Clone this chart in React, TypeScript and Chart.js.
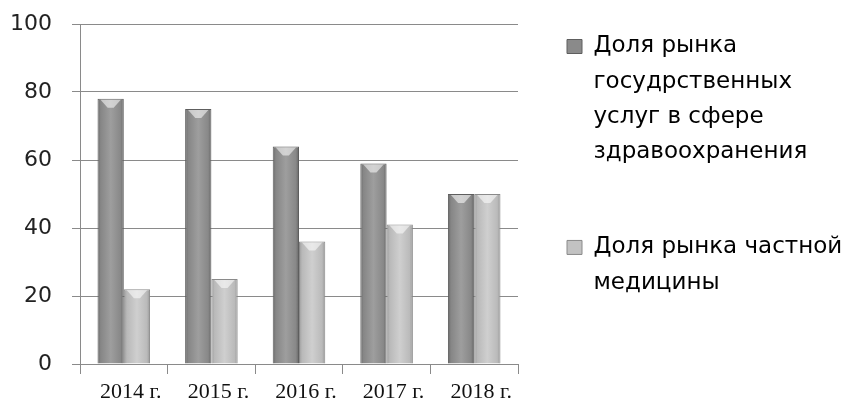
import React, { useEffect, useRef } from "react";
import { Chart, registerables } from "chart.js";

Chart.register(...registerables);

const categories = ["2014 г.", "2015 г.", "2016 г.", "2017 г.", "2018 г."];
const publicShare = [78, 75, 64, 59, 50];
const privateShare = [22, 25, 36, 41, 50];
const legendPublic = ["Доля рынка", "госудрственных", "услуг в сфере", "здравоохранения", ""];
const legendPrivate = ["Доля рынка частной", "медицины"];
const yTicks = [0, 20, 40, 60, 80, 100];

const CAT_PCT = 0.6;
const LEGEND_WIDTH = 327;
const LEGEND_SHIFT = 24;

function barFill(ctx: any, dark: boolean) {
  const chart = ctx.chart;
  const xs = chart.scales && chart.scales.x;
  if (!xs || ctx.type !== "data" || !chart.chartArea) return dark ? "#8c8c8c" : "#c4c4c4";
  const center = xs.getPixelForValue(ctx.dataIndex);
  const catW = xs.width / categories.length;
  const bw = (catW * CAT_PCT) / 2;
  const left = center - (catW * CAT_PCT) / 2 + ctx.datasetIndex * bw;
  const g = chart.ctx.createLinearGradient(left, 0, left + bw, 0);
  if (dark) {
    g.addColorStop(0, "#6a6a6a");
    g.addColorStop(0.12, "#868686");
    g.addColorStop(0.5, "#9e9e9e");
    g.addColorStop(0.88, "#888888");
    g.addColorStop(1, "#666666");
  } else {
    g.addColorStop(0, "#9c9c9c");
    g.addColorStop(0.12, "#b9b9b9");
    g.addColorStop(0.5, "#cfcfcf");
    g.addColorStop(0.88, "#bababa");
    g.addColorStop(1, "#979797");
  }
  return g;
}

const bevelPlugin = {
  id: "bevel",
  afterDatasetsDraw(chart: any) {
    const c = chart.ctx;
    chart.data.datasets.forEach((_: any, di: number) => {
      const meta = chart.getDatasetMeta(di);
      meta.data.forEach((el: any) => {
        const p = el.getProps(["x", "y", "width"], true);
        const l = p.x - p.width / 2 + 1;
        const r = p.x + p.width / 2 - 1;
        const t = p.y + 1;
        c.save();
        c.fillStyle = "rgba(255,255,255,0.55)";
        c.beginPath();
        c.moveTo(l + 2, t);
        c.lineTo(r - 2, t);
        c.lineTo(p.x + 3, t + 8);
        c.lineTo(p.x - 3, t + 8);
        c.closePath();
        c.fill();
        c.restore();
      });
    });
  },
};

const legendLayoutPlugin = {
  id: "legendLayout",
  beforeLayout(chart: any) {
    const lg = chart.legend;
    if (lg && !lg.__patched) {
      lg.__patched = true;
      const origFit = lg.fit;
      lg.fit = function () {
        origFit.call(this);
        this.width = LEGEND_WIDTH;
      };
    }
  },
  afterLayout(chart: any) {
    const lg = chart.legend;
    if (lg) {
      lg.left += LEGEND_SHIFT;
      lg.right += LEGEND_SHIFT;
    }
  },
};

export default function App() {
  const ref = useRef<HTMLCanvasElement | null>(null);
  useEffect(() => {
    if (!ref.current) return;
    const chart = new Chart(ref.current, {
      type: "bar",
      data: {
        labels: categories,
        datasets: [
          {
            label: legendPublic.join(" "),
            data: publicShare,
            backgroundColor: (ctx: any) => barFill(ctx, true),
            borderColor: "#5e5e5e",
            borderWidth: 1,
            categoryPercentage: CAT_PCT,
            barPercentage: 1,
          },
          {
            label: legendPrivate.join(" "),
            data: privateShare,
            backgroundColor: (ctx: any) => barFill(ctx, false),
            borderColor: "#8a8a8a",
            borderWidth: 1,
            categoryPercentage: CAT_PCT,
            barPercentage: 1,
          },
        ],
      },
      options: {
        animation: false,
        responsive: true,
        maintainAspectRatio: false,
        layout: { padding: { left: 10, top: 10, right: 0, bottom: 0 } },
        plugins: {
          tooltip: { enabled: false },
          legend: {
            position: "right",
            align: "start",
            labels: {
              boxWidth: 15,
              boxHeight: 14,
              padding: 25,
              color: "#222",
              font: { family: "DejaVu Sans", size: 23, lineHeight: 1.53 },
              generateLabels: () => [
                {
                  text: legendPublic as any,
                  fillStyle: "#8a8a8a",
                  strokeStyle: "#5e5e5e",
                  lineWidth: 1,
                  datasetIndex: 0,
                  hidden: false,
                },
                {
                  text: legendPrivate as any,
                  fillStyle: "#c2c2c2",
                  strokeStyle: "#8a8a8a",
                  lineWidth: 1,
                  datasetIndex: 1,
                  hidden: false,
                },
              ],
            },
          },
        },
        scales: {
          x: {
            grid: {
              display: true,
              drawOnChartArea: false,
              drawTicks: true,
              tickLength: 10,
              color: "#8a8a8a",
              offset: true,
            },
            border: { display: true, color: "#8a8a8a" },
            ticks: {
              color: "#111",
              font: { family: "Liberation Serif", size: 22 },
              labelOffset: 7,
              padding: 5,
              maxRotation: 0,
              autoSkip: false,
            },
            afterFit: (axis: any) => {
              axis.height = 41;
              axis.paddingLeft = 0;
              axis.paddingRight = 0;
            },
          },
          y: {
            min: 0,
            max: 100,
            afterBuildTicks: (axis: any) => {
              axis.ticks = yTicks.map((v) => ({ value: v }));
            },
            afterFit: (axis: any) => {
              axis.width = 70;
              axis.paddingTop = 24;
              axis.paddingBottom = 0;
            },
            grid: { color: "#8a8a8a", tickLength: 8 },
            border: { display: true, color: "#8a8a8a" },
            ticks: {
              color: "#222",
              font: { family: "DejaVu Sans", size: 22 },
              padding: 20,
            },
          },
        },
      },
      plugins: [bevelPlugin, legendLayoutPlugin],
    });
    return () => chart.destroy();
  }, []);
  return (
    <div style={{ position: "fixed", left: 0, top: 0, width: 845, height: 405, background: "#fff" }}>
      <canvas ref={ref} />
    </div>
  );
}
